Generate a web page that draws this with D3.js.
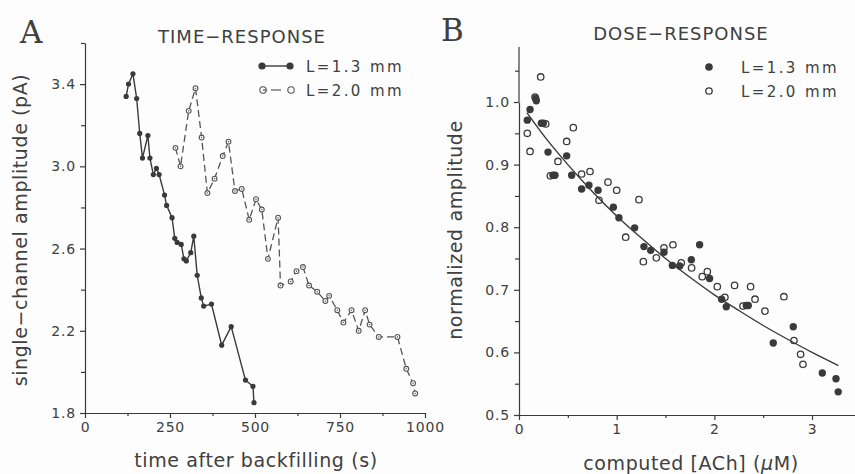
<!DOCTYPE html>
<html>
<head>
<meta charset="utf-8">
<title>Time-response and dose-response</title>
<script src="https://cdn.jsdelivr.net/npm/d3@7"></script>
<style>
  body { margin: 0; background: #fdfdfd; }
  svg { display: block; }
  text { fill: #404040; font-family: 'DejaVu Sans', sans-serif; }
  .tick text { font-size: 14px; letter-spacing: 0.8px; fill: #404040; }
  .domain, .tick line { stroke: #3a3a3a; stroke-width: 1.2; }
  .panel { font-family: 'DejaVu Serif', serif; font-size: 31px; }
  .title { font-size: 18px; letter-spacing: 1px; }
  .label { font-size: 19px; letter-spacing: 0.6px; }
  .legend { font-size: 15px; letter-spacing: 2.4px; }
</style>
</head>
<body>
<svg width="855" height="474"></svg>
<script>
// panel A: time-response (time in s, amplitude in pA)
const timeL13 = [121, 128, 141, 152, 161, 169, 185, 191, 201, 210, 218, 234, 240, 256, 264, 271, 283,
  291, 298, 311, 320, 330, 342, 349, 372, 402, 430, 472, 494, 497];
const ampL13 = [3.34, 3.40, 3.45, 3.33, 3.16, 3.04, 3.15, 3.04, 2.96, 2.99, 2.96, 2.86, 2.81, 2.75, 2.65, 2.63, 2.62,
  2.55, 2.54, 2.58, 2.66, 2.47, 2.36, 2.32, 2.33, 2.13, 2.22, 1.96, 1.93, 1.85];
const timeL20 = [266, 281, 305, 325, 343, 360, 381, 405, 422, 441, 461, 483, 503, 520, 538, 568, 575,
  605, 622, 641, 659, 683, 707, 718, 742, 760, 784, 805, 824, 837, 864, 919, 945, 965, 971];
const ampL20 = [3.09, 3.00, 3.27, 3.38, 3.14, 2.87, 2.94, 3.05, 3.12, 2.88, 2.89, 2.74, 2.84, 2.79, 2.55, 2.75, 2.42,
  2.44, 2.49, 2.51, 2.42, 2.39, 2.345, 2.37, 2.30, 2.24, 2.30, 2.20, 2.30, 2.23, 2.17, 2.17, 2.015, 1.945, 1.895];

// panel B: dose-response (computed ACh in uM, normalized amplitude)
const doseL13 = [0.085, 0.113, 0.171, 0.177, 0.229, 0.249, 0.297, 0.348, 0.368, 0.488, 0.539, 0.641, 0.716, 0.809,
  0.966, 1.023, 1.184, 1.279, 1.348, 1.484, 1.57, 1.645, 1.764, 1.849, 1.951, 2.074, 2.122, 2.327, 2.347,
  2.603, 2.808, 3.105, 3.245, 3.268];
const normL13 = [0.971, 0.988, 1.006, 1.002, 0.966, 0.966, 0.920, 0.883, 0.883, 0.914, 0.883, 0.861, 0.867, 0.859,
  0.832, 0.815, 0.799, 0.769, 0.763, 0.760, 0.739, 0.738, 0.748, 0.772, 0.718, 0.685, 0.673, 0.675, 0.675,
  0.615, 0.641, 0.567, 0.558, 0.537];
const doseL20 = [0.085, 0.113, 0.164, 0.222, 0.273, 0.321, 0.399, 0.488, 0.556, 0.641, 0.727, 0.819, 0.911, 1.0,
  1.092, 1.228, 1.273, 1.406, 1.484, 1.576, 1.661, 1.767, 1.876, 1.928, 2.03, 2.108, 2.207, 2.293, 2.371,
  2.416, 2.518, 2.712, 2.815, 2.883, 2.907];
const normL20 = [0.950, 0.921, 1.008, 1.040, 0.965, 0.882, 0.905, 0.937, 0.959, 0.885, 0.889, 0.843, 0.872, 0.859,
  0.784, 0.844, 0.745, 0.751, 0.767, 0.772, 0.743, 0.735, 0.721, 0.729, 0.705, 0.688, 0.707, 0.674, 0.705,
  0.685, 0.666, 0.689, 0.619, 0.597, 0.581];
// fitted curve
const fitDose = [0.08, 0.27, 0.5, 0.75, 1.0, 1.25, 1.5, 1.75, 2.0, 2.25, 2.5, 2.75, 3.0, 3.27];
const fitNorm = [0.983, 0.943, 0.900, 0.857, 0.818, 0.783, 0.750, 0.720, 0.692, 0.667, 0.643, 0.621, 0.600, 0.579];

// ticks
const timeTicks = [0, 250, 500, 750, 1000];
const timeMinor = [125, 375, 625, 875];
const ampTicks = [1.8, 2.2, 2.6, 3.0, 3.4];
const ampMinor = [2.0, 2.4, 2.8, 3.2, 3.6];
const doseTicks = [0, 1, 2, 3];
const doseMinor = [0.5, 1.5, 2.5];
const normTicks = [0.5, 0.6, 0.7, 0.8, 0.9, 1.0];
const normMinor = [0.55, 0.65, 0.75, 0.85, 0.95, 1.05];

const ink = '#3a3a3a';
const svg = d3.select('svg');

function axes(x, y, xt, xm, yt, ym, xf, yf) {
  const g = svg.append('g');
  g.append('g').attr('transform', `translate(0,${y.range()[0]})`)
    .call(d3.axisBottom(x).tickValues(xt).tickSize(5).tickSizeOuter(0).tickPadding(4).tickFormat(xf));
  g.append('g').attr('transform', `translate(0,${y.range()[0]})`)
    .call(d3.axisBottom(x).tickValues(xm).tickSize(3).tickSizeOuter(0).tickFormat(''))
    .select('.domain').remove();
  g.append('g').attr('transform', `translate(${x.range()[0]},0)`)
    .call(d3.axisLeft(y).tickValues(yt).tickSize(5).tickSizeOuter(0).tickPadding(4).tickFormat(yf));
  g.append('g').attr('transform', `translate(${x.range()[0]},0)`)
    .call(d3.axisLeft(y).tickValues(ym).tickSize(4).tickSizeOuter(0).tickFormat(''))
    .select('.domain').remove();
  g.selectAll('.tick text').attr('font-family', null).attr('font-size', null);
  return g;
}

// ---------- panel A ----------
const xA = d3.scaleLinear().domain([0, 1000]).range([85, 425]);
const yA = d3.scaleLinear().domain([1.8, 3.6]).range([413, 43]);
axes(xA, yA, timeTicks, timeMinor, ampTicks, ampMinor, d3.format('d'), d3.format('.1f'));

const a13 = timeL13.map((t, i) => [t, ampL13[i]]);
const a20 = timeL20.map((t, i) => [t, ampL20[i]]);
const lineA = d3.line().x(d => xA(d[0])).y(d => yA(d[1]));

svg.append('path').datum(a20).attr('d', lineA)
  .attr('fill', 'none').attr('stroke', '#555').attr('stroke-width', 1.3).attr('stroke-dasharray', '7 4');
svg.append('g').selectAll('circle').data(a20).join('circle')
  .attr('cx', d => xA(d[0])).attr('cy', d => yA(d[1])).attr('r', 2.4)
  .attr('fill', '#fff').attr('stroke', '#555').attr('stroke-width', 1.1);
svg.append('g').selectAll('circle').data(a20).join('circle')
  .attr('cx', d => xA(d[0])).attr('cy', d => yA(d[1])).attr('r', 0.8).attr('fill', '#666');

svg.append('path').datum(a13).attr('d', lineA)
  .attr('fill', 'none').attr('stroke', ink).attr('stroke-width', 1.4);
svg.append('g').selectAll('circle').data(a13).join('circle')
  .attr('cx', d => xA(d[0])).attr('cy', d => yA(d[1])).attr('r', 2.6).attr('fill', ink);

// legend A
svg.append('line').attr('x1', 262).attr('x2', 290).attr('y1', 66).attr('y2', 66)
  .attr('stroke', ink).attr('stroke-width', 1.4);
svg.selectAll('.lgA').data([262, 290]).join('circle').attr('class', 'lgA')
  .attr('cx', d => d).attr('cy', 66).attr('r', 3.6).attr('fill', ink);
svg.append('line').attr('x1', 271).attr('x2', 281).attr('y1', 90).attr('y2', 90)
  .attr('stroke', '#555').attr('stroke-width', 1.2);
svg.append('line').attr('x1', 263).attr('x2', 267).attr('y1', 90).attr('y2', 90)
  .attr('stroke', '#555').attr('stroke-width', 1.2);
svg.selectAll('.lgA2').data([263, 291]).join('circle').attr('class', 'lgA2')
  .attr('cx', d => d).attr('cy', 90).attr('r', 3.2)
  .attr('fill', 'none').attr('stroke', '#555').attr('stroke-width', 1.1);
svg.append('text').attr('class', 'legend').attr('x', 306).attr('y', 72).text('L=1.3 mm');
svg.append('text').attr('class', 'legend').attr('x', 306).attr('y', 96).text('L=2.0 mm');

svg.append('text').attr('class', 'panel').attr('x', 20).attr('y', 43).text('A');
svg.append('text').attr('class', 'title').attr('x', 242).attr('y', 43)
  .attr('text-anchor', 'middle').text('TIME\u2212RESPONSE');
svg.append('text').attr('class', 'label').attr('x', 256).attr('y', 467)
  .attr('text-anchor', 'middle').text('time after backfilling (s)');
svg.append('text').attr('class', 'label')
  .attr('transform', 'translate(27,230) rotate(-90)')
  .attr('text-anchor', 'middle').text('single\u2212channel amplitude (pA)');

// ---------- panel B ----------
const xB = d3.scaleLinear().domain([0, 3.45]).range([519, 856]);
const yB = d3.scaleLinear().domain([0.5, 1.0]).range([415, 102]);
const gB = axes(xB, yB, doseTicks, doseMinor, normTicks, normMinor, d3.format('d'), d3.format('.1f'));
// y axis of B runs a little above 1.05
gB.append('line').attr('x1', xB(0)).attr('x2', xB(0)).attr('y1', yB(1.0)).attr('y2', yB(1.088))
  .attr('stroke', ink).attr('stroke-width', 1.2);

const fit = fitDose.map((d, i) => [d, fitNorm[i]]);
svg.append('path').datum(fit)
  .attr('d', d3.line().curve(d3.curveMonotoneX).x(d => xB(d[0])).y(d => yB(d[1])))
  .attr('fill', 'none').attr('stroke', ink).attr('stroke-width', 1.4);

svg.append('g').selectAll('circle').data(doseL20.map((d, i) => [d, normL20[i]])).join('circle')
  .attr('cx', d => xB(d[0])).attr('cy', d => yB(d[1])).attr('r', 3.2)
  .attr('fill', 'none').attr('stroke', ink).attr('stroke-width', 1.3);
svg.append('g').selectAll('circle').data(doseL13.map((d, i) => [d, normL13[i]])).join('circle')
  .attr('cx', d => xB(d[0])).attr('cy', d => yB(d[1])).attr('r', 3.7).attr('fill', ink);

// legend B
svg.append('circle').attr('cx', 709).attr('cy', 67).attr('r', 3.8).attr('fill', ink);
svg.append('circle').attr('cx', 709).attr('cy', 91).attr('r', 3.2)
  .attr('fill', 'none').attr('stroke', ink).attr('stroke-width', 1.3);
svg.append('text').attr('class', 'legend').attr('x', 741).attr('y', 73).text('L=1.3 mm');
svg.append('text').attr('class', 'legend').attr('x', 741).attr('y', 97).text('L=2.0 mm');

svg.append('text').attr('class', 'panel').attr('x', 441).attr('y', 41).text('B');
svg.append('text').attr('class', 'title').attr('x', 681).attr('y', 40)
  .attr('text-anchor', 'middle').text('DOSE\u2212RESPONSE');
const xl = svg.append('text').attr('class', 'label').attr('x', 691).attr('y', 470)
  .attr('text-anchor', 'middle');
xl.append('tspan').text('computed [ACh] (');
xl.append('tspan').attr('font-style', 'italic').text('\u03bc');
xl.append('tspan').text('M)');
svg.append('text').attr('class', 'label')
  .attr('transform', 'translate(462,230) rotate(-90)')
  .attr('text-anchor', 'middle').text('normalized amplitude');
</script>
</body>
</html>
